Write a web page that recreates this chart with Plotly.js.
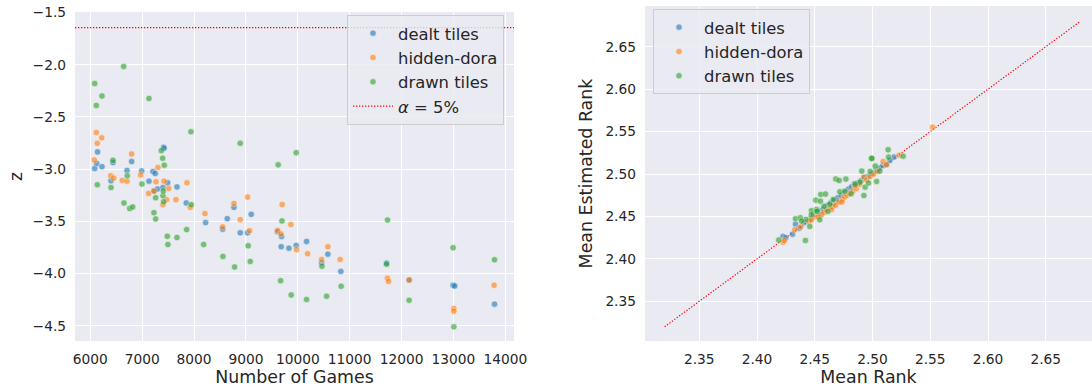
<!DOCTYPE html>
<html>
<head>
<meta charset="utf-8">
<script src="https://cdn.plot.ly/plotly-3.0.1.min.js"></script>
<style>html,body{margin:0;padding:0;background:#fff;}#chart{width:1092px;height:392px;}</style>
</head>
<body>
<div id="chart"></div>
<script>
// ---------- data: left panel (Number of Games vs z) ----------
const seriesNames = ['dealt tiles', 'hidden-dora', 'drawn tiles'];
const seriesColors = ['#1f77b4', '#ff7f0e', '#2ca02c'];

const gamesDealt = [6085,6123,6140,6225,6399,6437,6707,6797,6990,7131,7208,7227,7252,7299,7401,7414,7420,7491,7671,7850,8223,8551,8640,8769,8890,9033,9102,9607,9680,9687,9829,9969,10169,10459,10580,10830,11711,12146,12994,13026,13792];
const zDealt     = [-2.995,-2.945,-2.835,-2.976,-3.112,-2.937,-3.012,-2.928,-3.017,-3.115,-3.023,-3.21,-3.042,-3.19,-3.176,-2.79,-2.80,-3.131,-3.17,-3.324,-3.512,-3.575,-3.474,-3.366,-3.61,-3.61,-3.433,-3.60,-3.743,-3.645,-3.757,-3.731,-3.693,-3.897,-3.814,-3.98,-3.90,-4.062,-4.112,-4.12,-4.293];

const gamesDora = [6077,6116,6135,6220,6393,6451,6617,6707,6797,6971,7125,7227,7266,7304,7401,7420,7472,7511,7651,7863,7927,8210,8551,8769,8890,9033,9071,9611,9674,9699,9867,9977,10189,10459,10580,10817,11730,11750,12146,13008,13008,13784];
const zDora     = [-2.912,-2.65,-2.753,-2.70,-3.064,-3.086,-3.108,-3.115,-2.855,-3.055,-3.233,-3.21,-3.121,-2.985,-3.34,-3.115,-3.293,-3.185,-3.293,-3.131,-3.366,-3.426,-3.553,-3.328,-3.484,-3.268,-3.59,-3.588,-3.62,-3.338,-3.53,-3.772,-3.81,-3.865,-3.743,-3.865,-4.046,-4.075,-4.062,-4.334,-4.36,-4.112];

const gamesDrawn = [6085,6116,6135,6225,6399,6437,6643,6649,6713,6759,6817,6996,7131,7227,7260,7260,7368,7395,7401,7407,7414,7426,7484,7497,7671,7857,7940,7946,8185,8557,8782,8890,9044,9083,9622,9669,9694,9873,9969,10169,10465,10555,10836,11711,11730,12146,12994,13008,13792];
const zDrawn     = [-2.18,-2.39,-3.15,-2.30,-3.176,-2.915,-2.016,-3.324,-3.064,-3.378,-3.362,-3.143,-2.324,-3.417,-3.274,-3.477,-2.823,-2.896,-3.255,-3.21,-3.312,-2.962,-3.643,-3.722,-3.655,-3.579,-2.642,-3.34,-3.722,-3.836,-3.937,-2.753,-3.734,-3.884,-2.959,-4.068,-3.496,-4.205,-2.842,-4.248,-3.93,-4.217,-4.122,-3.91,-3.488,-4.256,-3.753,-4.51,-3.868];

const zCritical = -1.645;          // alpha = 5% line
const alphaLabel = '<i>α</i> = 5%';

// ---------- data: right panel (Mean Rank vs Mean Estimated Rank) ----------
const rankDealt    = [2.4225,2.4249,2.4307,2.4333,2.4364,2.441,2.446,2.449,2.452,2.455,2.458,2.461,2.464,2.467,2.470,2.473,2.476,2.4792,2.482,2.4844,2.487,2.490,2.493,2.4964,2.4994,2.503,2.506,2.509,2.5121,2.5187,2.515,2.470,2.465,2.455];
const estRankDealt = [2.4265,2.4249,2.4291,2.4409,2.4362,2.443,2.447,2.452,2.455,2.457,2.459,2.463,2.466,2.469,2.472,2.475,2.478,2.4822,2.485,2.4885,2.489,2.492,2.496,2.4975,2.5003,2.504,2.507,2.510,2.5113,2.5199,2.516,2.468,2.462,2.452];

const rankDora    = [2.4225,2.4236,2.4327,2.438,2.445,2.4505,2.4558,2.458,2.460,2.463,2.466,2.4711,2.474,2.476,2.478,2.480,2.483,2.486,2.489,2.4925,2.495,2.498,2.501,2.504,2.5092,2.512,2.5231,2.552,2.468,2.453,2.447,2.4645,2.4735,2.485];
const estRankDora = [2.4197,2.4215,2.4343,2.438,2.444,2.4495,2.4524,2.455,2.458,2.460,2.464,2.4669,2.470,2.473,2.475,2.477,2.480,2.483,2.488,2.4963,2.493,2.497,2.500,2.503,2.5148,2.511,2.5222,2.5552,2.463,2.450,2.446,2.458,2.467,2.486];

const rankDrawn    = [2.4188,2.4333,2.4419,2.4422,2.4457,2.4471,2.4509,2.4515,2.4543,2.4549,2.4552,2.4593,2.4613,2.463,2.4682,2.4711,2.4717,2.476,2.4769,2.4815,2.489,2.4907,2.4925,2.4936,2.4965,2.4991,2.5023,2.5035,2.5063,2.5135,2.5139,2.5265,2.447,2.452,2.458,2.466,2.485,2.498,2.4994,2.4375,2.4385];
const estRankDrawn = [2.4221,2.4473,2.4217,2.4465,2.4382,2.4567,2.4692,2.4583,2.4461,2.468,2.4759,2.4763,2.4559,2.4645,2.494,2.4924,2.4791,2.4798,2.494,2.4767,2.4904,2.5034,2.4747,2.4845,2.4893,2.5187,2.5093,2.4912,2.5034,2.5286,2.5199,2.521,2.452,2.456,2.462,2.470,2.488,2.503,2.5183,2.4485,2.4445];

const diagonalEnds = [2.32, 2.68];

// ---------- axis ticks / ranges ----------
const gamesTicks = [6000,7000,8000,9000,10000,11000,12000,13000,14000];
const zTicks = [-4.5,-4.0,-3.5,-3.0,-2.5,-2.0,-1.5];
const rankTicks = [2.35,2.40,2.45,2.50,2.55,2.60,2.65];
const gamesRange = [5705, 14168];
const zRange = [-4.646, -1.495];
const rankXRange = [2.303, 2.690];
const rankYRange = [2.3032, 2.698];

// ---------- build ----------
const W = 1092, H = 392;
const textColor = '#262626';
const markerBase = (c) => ({color: c, size: 6.5, opacity: 0.6, line: {color: 'white', width: 0.6}});
const dottedRed = {color: '#ff0000', width: 1.2, dash: '1.3px,1.7px'};

const leftData = [[gamesDealt, zDealt], [gamesDora, zDora], [gamesDrawn, zDrawn]];
const rightData = [[rankDealt, estRankDealt], [rankDora, estRankDora], [rankDrawn, estRankDrawn]];

const traces = [];
leftData.forEach((d, i) => traces.push({
  type: 'scatter', mode: 'markers', x: d[0], y: d[1], name: seriesNames[i],
  xaxis: 'x', yaxis: 'y', marker: markerBase(seriesColors[i]), legend: 'legend', hoverinfo: 'skip'
}));
traces.push({
  type: 'scatter', mode: 'lines', x: gamesRange, y: [zCritical, zCritical], name: alphaLabel,
  xaxis: 'x', yaxis: 'y', line: dottedRed, legend: 'legend', hoverinfo: 'skip'
});
traces.push({
  type: 'scatter', mode: 'lines', x: diagonalEnds, y: diagonalEnds, showlegend: false,
  xaxis: 'x2', yaxis: 'y2', line: dottedRed, hoverinfo: 'skip'
});
rightData.forEach((d, i) => traces.push({
  type: 'scatter', mode: 'markers', x: d[0], y: d[1], name: seriesNames[i],
  xaxis: 'x2', yaxis: 'y2', marker: markerBase(seriesColors[i]), legend: 'legend2', hoverinfo: 'skip'
}));

const axisCommon = {
  gridcolor: 'white', gridwidth: 1, zeroline: false, showline: false, ticks: '',
  tickfont: {size: 13.75, color: textColor}, automargin: false
};

const legendCommon = {
  xanchor: 'left', yanchor: 'top', bgcolor: 'rgba(234,234,242,0.8)', bordercolor: '#cccccc',
  borderwidth: 1, font: {size: 16.4, color: textColor}, itemwidth: 40, itemsizing: 'trace'
};

const layout = {
  width: W, height: H,
  margin: {l: 0, r: 0, t: 0, b: 0},
  paper_bgcolor: 'white', plot_bgcolor: '#EAEAF2',
  font: {family: 'DejaVu Sans', color: textColor},
  showlegend: true,
  xaxis: Object.assign({}, axisCommon, {
    domain: [75/W, 514/W], anchor: 'y', range: gamesRange, tickvals: gamesTicks, tickformat: 'd',
    ticklabelstandoff: 8,
    title: {text: 'Number of Games', font: {size: 17.4, color: textColor}, standoff: 5}
  }),
  yaxis: Object.assign({}, axisCommon, {
    domain: [51/H, 380/H], anchor: 'x', range: zRange, tickvals: zTicks, tickformat: '.1f',
    ticklabelstandoff: 8,
    title: {text: 'z', font: {size: 17.4, color: textColor}, standoff: 5}
  }),
  xaxis2: Object.assign({}, axisCommon, {
    domain: [645/W, 1], anchor: 'y2', range: rankXRange, tickvals: rankTicks, tickformat: '.2f',
    ticklabelstandoff: 8,
    title: {text: 'Mean Rank', font: {size: 17.4, color: textColor}, standoff: 5}
  }),
  yaxis2: Object.assign({}, axisCommon, {
    domain: [51/H, 386/H], anchor: 'x2', range: rankYRange, tickvals: rankTicks, tickformat: '.2f',
    ticklabelstandoff: 8,
    title: {text: 'Mean Estimated Rank', font: {size: 17.4, color: textColor}, standoff: 8}
  }),
  legend: Object.assign({}, legendCommon, {x: 347/W, y: 1 - 15/H}),
  legend2: Object.assign({}, legendCommon, {x: 653/W, y: 1 - 9/H})
};

Plotly.newPlot('chart', traces, layout, {staticPlot: true, displayModeBar: false});
</script>
</body>
</html>
